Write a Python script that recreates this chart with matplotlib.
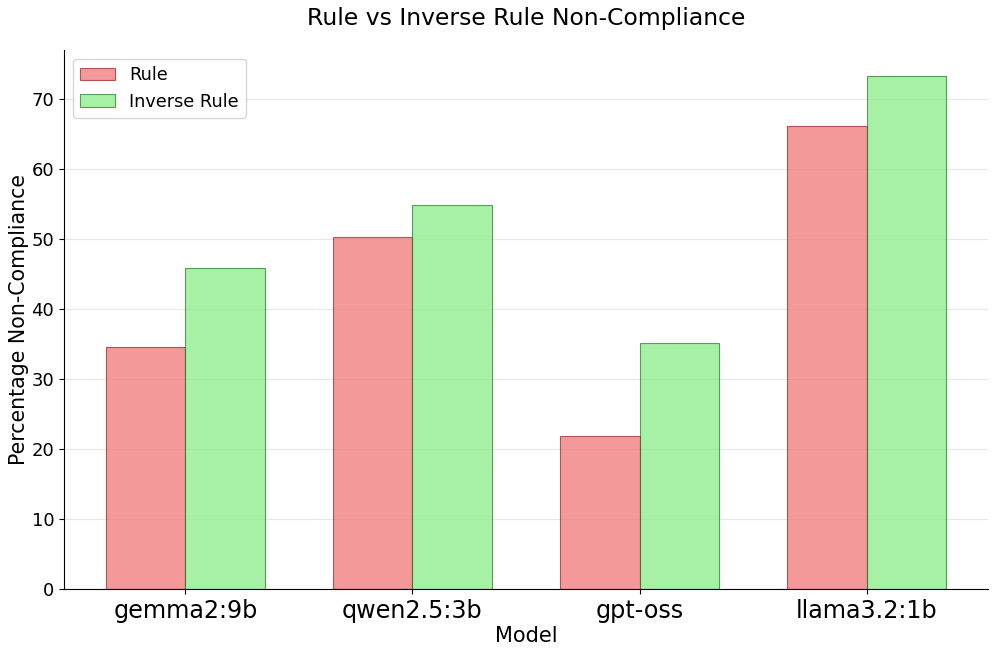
import matplotlib
matplotlib.use("Agg")
import matplotlib.pyplot as plt
import numpy as np

models = ["gemma2:9b", "qwen2.5:3b", "gpt-oss", "llama3.2:1b"]
rule = [34.6, 50.3, 21.9, 66.2]
inverse_rule = [45.9, 54.9, 35.2, 73.4]

fig = plt.figure(figsize=(9.96, 6.55), dpi=100)
ax = fig.add_axes([64/996, 1-589/655, (988-64)/996, (589-50)/655])

x = np.arange(len(models))
w = 0.35
ax.bar(x - w/2, rule, w, label="Rule", color="lightcoral", edgecolor="darkred", alpha=0.7, linewidth=0.8)
ax.bar(x + w/2, inverse_rule, w, label="Inverse Rule", color="lightgreen", edgecolor="darkgreen", alpha=0.7, linewidth=0.8)
for p in ax.patches:
    fc = p.get_facecolor()
    p.set_alpha(None)
    p.set_facecolor((fc[0], fc[1], fc[2], 0.8))
    ec = p.get_edgecolor()
    p.set_edgecolor((ec[0], ec[1], ec[2], 0.6))

ax.set_xticks(x)
ax.set_xticklabels(models, fontsize=17.2)
ax.tick_params(axis="y", labelsize=13)
ax.set_xlabel("Model", fontsize=15, labelpad=2)
ax.set_ylabel("Percentage Non-Compliance", fontsize=14.8, labelpad=1.5)
ax.set_title("Rule vs Inverse Rule Non-Compliance", fontsize=16.9, pad=18)
ax.legend(fontsize=12.7, loc="upper left")
ax.grid(axis="y", alpha=0.3)
ax.set_axisbelow(True)
ax.spines["top"].set_visible(False)
ax.spines["right"].set_visible(False)

fig.savefig("out.png", dpi=100)
